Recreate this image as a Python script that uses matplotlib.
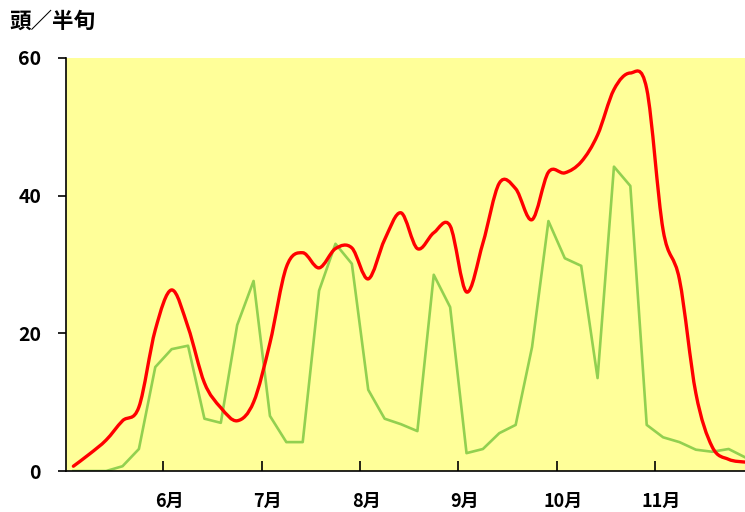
import matplotlib
matplotlib.use("Agg")
import matplotlib.pyplot as plt
import matplotlib.transforms as mtransforms
from matplotlib.path import Path
from matplotlib.patches import PathPatch
import numpy as np

plt.rcParams['font.family'] = ['Noto Sans CJK JP', 'DejaVu Sans']

# 半旬 (5-day period) index, starting with the 1st period of May
pentad = list(range(42))

# red: smoothed line
red_vals = [0.7, 2.5, 4.5, 7.3, 9.3, 20.5, 26.3, 20.9, 12.8, 9.2,
            7.3, 10.0, 18.6, 29.6, 31.7, 29.5, 32.3, 32.4, 27.9, 33.6,
            37.5, 32.3, 34.6, 35.6, 26.0, 33.1, 41.8, 41.0, 36.5, 43.4,
            43.3, 44.9, 48.8, 55.4, 57.8, 55.5, 35.0, 27.8, 11.3, 3.5,
            1.7, 1.3]

# green: straight line
green_vals = [0.0, 0.0, 0.0, 0.7, 3.2, 15.1, 17.7, 18.2, 7.6, 7.0,
              21.2, 27.6, 8.0, 4.2, 4.2, 26.2, 33.0, 30.1, 11.8, 7.6,
              6.8, 5.8, 28.5, 23.8, 2.6, 3.2, 5.5, 6.7, 18.0, 36.3,
              30.9, 29.8, 13.5, 44.2, 41.4, 6.7, 4.9, 4.2, 3.1, 2.8,
              3.2, 2.0]

month_labels = ['6月', '7月', '8月', '9月', '10月', '11月']
month_ticks = [5.5, 11.5, 17.5, 23.5, 29.5, 35.5]


def smooth_path(xs, ys):
    # bezier through every point, like a spreadsheet "smoothed line"
    pts = np.column_stack([xs, ys]).astype(float)
    n = len(pts)
    verts = [pts[0]]
    codes = [Path.MOVETO]
    for i in range(n - 1):
        p0 = pts[i - 1] if i > 0 else pts[i]
        p1 = pts[i]
        p2 = pts[i + 1]
        p3 = pts[i + 2] if i + 2 < n else pts[i + 1]
        c1 = p1 + (p2 - p0) / 6.0
        c2 = p2 - (p3 - p1) / 6.0
        verts += [c1, c2, p2]
        codes += [Path.CURVE4] * 3
    return Path(verts, codes)


fig = plt.figure(figsize=(7.45, 5.12), dpi=100)
ax = fig.add_axes([0.0886, 0.080, 0.9114, 0.807])
ax.set_facecolor('#FFFF99')

ax.plot(pentad, green_vals, color='#92D050', lw=1.9, zorder=2)
ax.add_patch(PathPatch(smooth_path(pentad, red_vals), facecolor='none',
                       edgecolor='#FF0000', lw=2.4, zorder=3,
                       capstyle='round', joinstyle='round'))

ax.set_xlim(-0.45, 41.0)
ax.set_ylim(0, 60)

for s in ['top', 'right']:
    ax.spines[s].set_visible(False)
for s in ['left', 'bottom']:
    ax.spines[s].set_color('black')
    ax.spines[s].set_linewidth(1.2)

ax.set_yticks([0, 20, 40, 60])
ax.tick_params(axis='y', direction='out', length=6, width=1.2, pad=12,
               labelsize=14)
ax.set_xticks(month_ticks)
ax.set_xticklabels(month_labels)
ax.tick_params(axis='x', direction='in', length=7, width=1.2, pad=15,
               labelsize=13)
for lab in ax.get_xticklabels() + ax.get_yticklabels():
    lab.set_fontweight('bold')
offset = mtransforms.ScaledTranslation(6 / 100, 0, fig.dpi_scale_trans)
for lab in ax.get_xticklabels():
    lab.set_transform(lab.get_transform() + offset)

fig.text(0.013, 0.958, '頭／半旬', fontsize=15.5, fontweight='bold',
         ha='left', va='center')

fig.savefig('out.png', dpi=100)
